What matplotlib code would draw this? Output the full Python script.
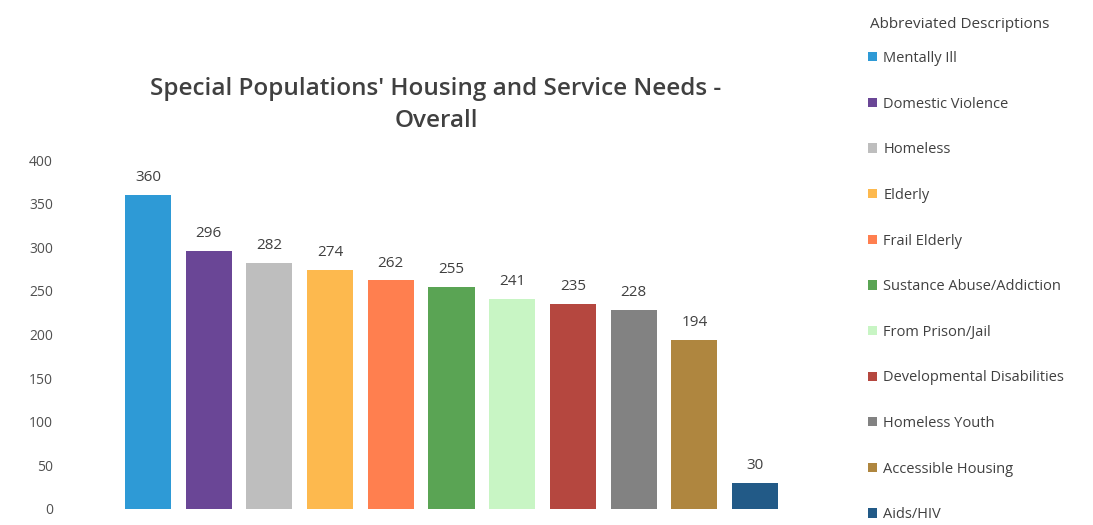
import matplotlib.pyplot as plt
from matplotlib.patches import Patch

categories = ['Mentally Ill', 'Domestic Violence', 'Homeless', 'Elderly', 'Frail Elderly',
              'Sustance Abuse/Addiction', 'From Prison/Jail', 'Developmental Disabilities',
              'Homeless Youth', 'Accessible Housing', 'Aids/HIV']
values = [360, 296, 282, 274, 262, 255, 241, 235, 228, 194, 30]
colors = ['#2E9AD6', '#6A4696', '#BEBEBE', '#FDB94E', '#FF7F4F', '#5AA454',
          '#C8F5C4', '#B5473F', '#828282', '#AF863F', '#225A87']
yticks = [0, 50, 100, 150, 200, 250, 300, 350, 400]

plt.rcParams['font.family'] = ['Open Sans', 'DejaVu Sans']

fig = plt.figure(figsize=(10.93, 5.25), dpi=100)
ax = fig.add_axes([93.4 / 1093, 16 / 525, (791.4 - 93.4) / 1093, 349 / 525])

x = list(range(len(values)))
ax.bar(x, values, width=0.76, color=colors)
for xi, v in zip(x, values):
    ax.text(xi, v + 11, str(v), ha='center', va='bottom', fontsize=11, color='#404040')

ax.set_xlim(-0.9, 10.6)
ax.set_ylim(0, 400)
ax.set_yticks(yticks)
ax.set_yticklabels([str(t) for t in yticks], fontsize=10, color='#505050')
ax.set_xticks([])
ax.tick_params(axis='y', length=0, pad=29)
for s in ax.spines.values():
    s.set_visible(False)

# chart title
fig.text(436 / 1093, 1 - 105 / 525, "Special Populations' Housing and Service Needs -\nOverall",
         ha='center', va='center', fontsize=17.5, fontweight='semibold', color='#404040',
         linespacing=1.45)

# legend title drawn separately so it can sit where the original has it
fig.text(870 / 1093, 1 - 25 / 525, 'Abbreviated Descriptions', ha='left', va='center',
         fontsize=11, color='#404040')

handles = [Patch(facecolor=c, edgecolor='none') for c in colors]
leg = fig.legend(handles, categories, loc='upper left', bbox_to_anchor=(868 / 1093, 1 - 51 / 525),
                 frameon=False, fontsize=10.5, handlelength=0.6, handleheight=0.6,
                 handletextpad=0.45, labelspacing=2.1, borderpad=0, borderaxespad=0)
for t in leg.get_texts():
    t.set_color('#404040')

fig.savefig('out.png', dpi=100)
